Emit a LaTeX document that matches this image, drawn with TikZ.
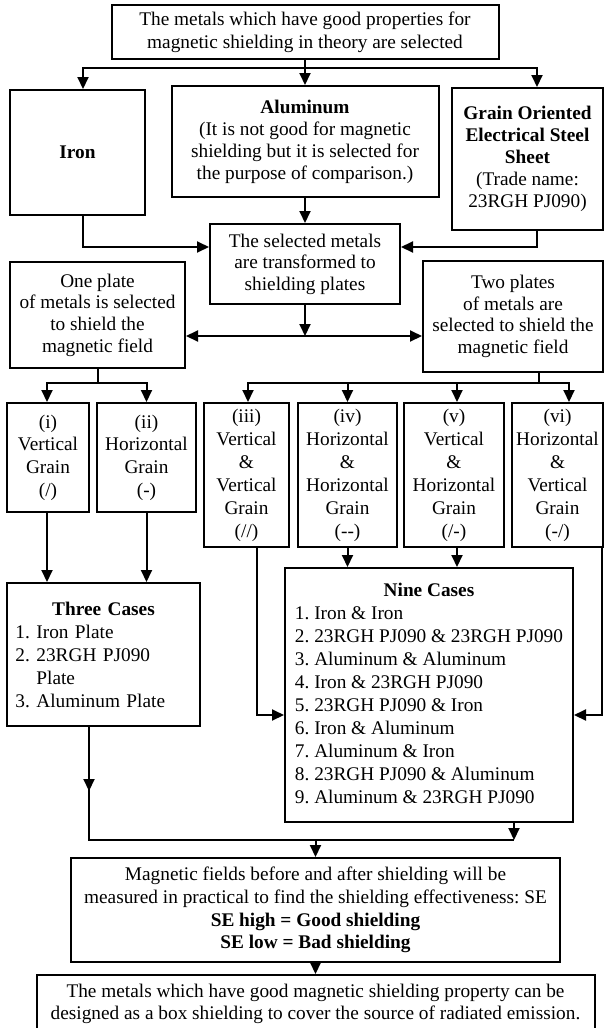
\documentclass[tikz,border=0pt]{standalone}
\usepackage{fontspec}
\setmainfont{Liberation Serif}
\usetikzlibrary{arrows.meta}
\begin{document}
\begin{tikzpicture}[x=1pt,y=-1pt,
  box/.style={draw, line width=2pt, inner sep=0pt, align=center, font=\fontsize{19.3}{22.7}\selectfont\frenchspacing},
  lead/.style={font=\fontsize{19.3}{#1}\selectfont\frenchspacing},
  link/.style={line width=2pt},
  arr/.style={line width=2pt, -{Triangle[length=12pt,width=11pt]}}
]
\fill[white] (0,0) rectangle (606,1028);
\useasboundingbox (0,0) rectangle (606,1028);

% selection of metals
\node[box, minimum width=387, minimum height=54, lead=23.3] (top) at (305,32)
  {The metals which have good properties for\\magnetic shielding in theory are selected};
\node[box, minimum width=135, minimum height=125] (iron) at (77.5,152.5) {\textbf{Iron}};
\node[box, minimum width=267, minimum height=111, lead=22] (alu) at (305,141.5)
  {\textbf{Aluminum}\\(It is not good for magnetic\\shielding but it is selected for\\the purpose of comparison.)};
\node[box, minimum width=151, minimum height=142, lead=22] (grain) at (527.5,159)
  {\textbf{Grain Oriented}\\\textbf{Electrical Steel}\\\textbf{Sheet}\\(Trade name:\\23RGH PJ090)};
\node[box, minimum width=190, minimum height=80, lead=21.5] (sel) at (305,264)
  {The selected metals\\are transformed to\\shielding plates};

% one or two plates
\node[box, minimum width=175, minimum height=106, lead=21.7] (one) at (97.5,315)
  {One plate\\of metals is selected\\to shield the\\magnetic field};
\node[box, minimum width=180, minimum height=111, lead=21.7] (two) at (513,316.5)
  {Two plates\\of metals are\\selected to shield the\\magnetic field};

% grain orientations
\node[box, minimum width=82, minimum height=109, lead=22.7] (g1) at (48,457.5) {(i)\\Vertical\\Grain\\(/)};
\node[box, minimum width=99, minimum height=109, lead=22.7] (g2) at (146.5,457.5) {(ii)\\Horizontal\\Grain\\(-)};
\node[box, minimum width=85, minimum height=144, lead=23] (g3) at (246.5,475) {(iii)\\Vertical\\\&\\Vertical\\Grain\\(//)};
\node[box, minimum width=99, minimum height=144, lead=23] (g4) at (347.5,475) {(iv)\\Horizontal\\\&\\Horizontal\\Grain\\(-{}-)};
\node[box, minimum width=100, minimum height=144, lead=23] (g5) at (454,475) {(v)\\Vertical\\\&\\Horizontal\\Grain\\(/-)};
\node[box, minimum width=91, minimum height=144, lead=23] (g6) at (557.5,475) {(vi)\\Horizontal\\\&\\Vertical\\Grain\\(-/)};

% test cases
\node[box, minimum width=193, minimum height=143, text width=176, align=left, lead=23] (three) at (103.5,654.5)
  {\makebox[176pt][c]{\textbf{Three Cases}}\\1. Iron Plate\\2. 23RGH PJ090\\\hphantom{2. }Plate\\3. Aluminum Plate};
\node[box, minimum width=288, minimum height=254, lead=23] (nine) at (429,695)
  {\begin{tabular}{@{}l@{}}
   \multicolumn{1}{@{}c@{}}{\textbf{Nine Cases}}\\
   1. Iron \& Iron\\
   2. 23RGH PJ090 \& 23RGH PJ090\\
   3. Aluminum \& Aluminum\\
   4. Iron \& 23RGH PJ090\\
   5. 23RGH PJ090 \& Iron\\
   6. Iron \& Aluminum\\
   7. Aluminum \& Iron\\
   8. 23RGH PJ090 \& Aluminum\\
   9. Aluminum \& 23RGH PJ090
   \end{tabular}};

% measurement and result
\node[box, minimum width=489, minimum height=104, lead=22.7] (mag) at (315.5,910)
  {Magnetic fields before and after shielding will be\\measured in practical to find the shielding effectiveness: SE\\\textbf{SE high = Good shielding}\\\textbf{SE low = Bad shielding}};
\node[box, minimum width=558, minimum height=58, lead=22.5] (fin) at (315.5,1004)
  {The metals which have good magnetic shielding property can be\\designed as a box shielding to cover the source of radiated emission.};

% connectors: selection
\draw[link] (top.south) -- ++(0,8) coordinate (tj);
\draw[arr] (tj) -| ([xshift=5.5pt]iron.north);
\draw[arr] (tj) -- (tj |- alu.north);
\draw[arr] (tj) -| ([xshift=9.5pt]grain.north);
\draw[arr] (alu.south) -- (sel.north);
\draw[arr] ([xshift=5.5pt]iron.south) |- ([yshift=17pt]sel.west);
\draw[arr] ([xshift=9.5pt]grain.south) |- ([yshift=17pt]sel.east);

% connectors: plates
\draw[arr] (sel.south) -- ++(0,31) coordinate (mj);
\draw[arr] (mj) -- (mj -| one.east);
\draw[arr] (mj) -- (mj -| two.west);

% connectors: orientations
\draw[link] (one.south) -- ++(0,14) coordinate (oj);
\draw[arr] (oj) -| ([xshift=-1pt]g1.north);
\draw[arr] (oj) -| (g2.north);
\draw[link] ([xshift=26pt]two.south) -- ++(0,10) coordinate (wj);
\draw[arr] (wj) -| ([xshift=1.5pt]g3.north);
\draw[arr] (wj) -| (g4.north);
\draw[arr] (wj) -| ([xshift=3pt]g5.north);
\draw[arr] (wj) -| ([xshift=11.5pt]g6.north);

% connectors: cases
\draw[arr] ([xshift=-1pt]g1.south) -- ([xshift=-1pt]g1.south |- three.north);
\draw[arr] (g2.south) -- (g2.south |- three.north);
\draw[arr] (g4.south) -- (g4.south |- nine.north);
\draw[arr] ([xshift=3pt]g5.south) -- ([xshift=3pt]g5.south |- nine.north);
\draw[arr] ([xshift=10.5pt]g3.south) |- ([yshift=-20pt]nine.west);
\draw[arr] ([xshift=44.5pt]g6.south) |- ([yshift=-20pt]nine.east);

% connectors: measurement
\coordinate (tx) at ([xshift=-14.5pt]three.south);
\coordinate (nx) at ([xshift=85pt]nine.south);
\coordinate (bj) at (315.5,840);
\draw[link] (tx) |- (nx |- bj);
\draw[arr] (tx) -- ++(0,64);
\draw[arr] (nx) -- (nx |- bj);
\draw[arr] (bj) -- (mag.north);
\draw[arr] (mag.south) -- (fin.north);
\end{tikzpicture}
\end{document}
